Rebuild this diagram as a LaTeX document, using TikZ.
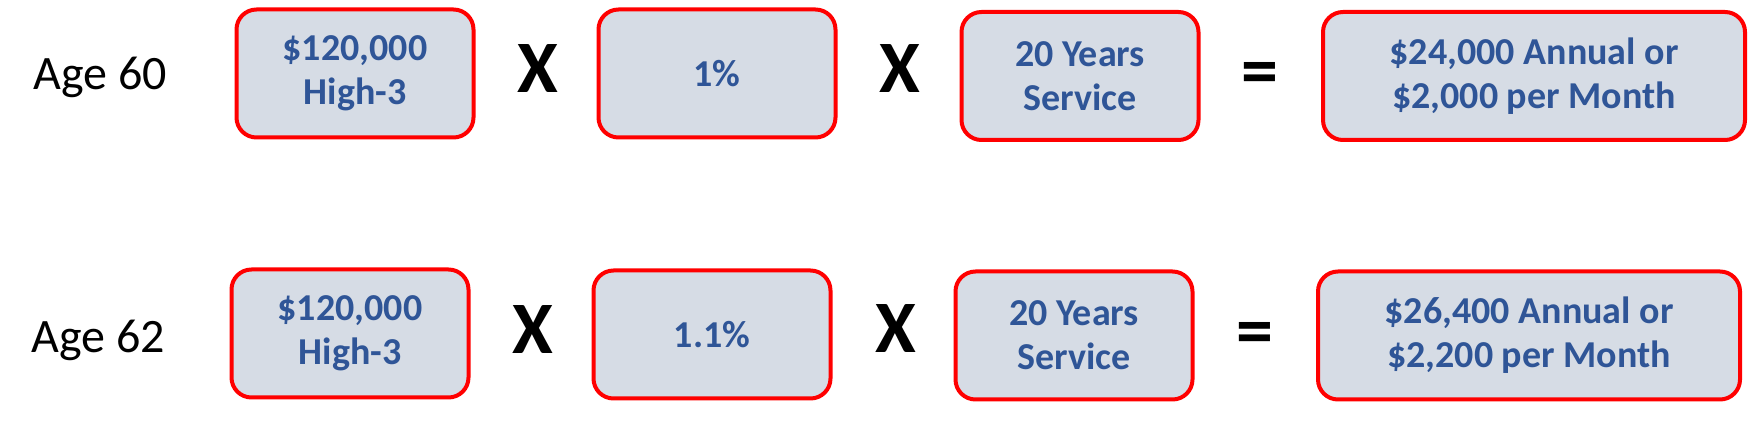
\documentclass[tikz,border=0pt]{standalone}
\usepackage{fontspec}
\setmainfont{Carlito}
\definecolor{boxfill}{HTML}{D6DCE5}
\definecolor{boxtext}{HTML}{2F5597}
\definecolor{boxline}{HTML}{FF0000}
\begin{document}
\begin{tikzpicture}[x=1pt,y=-1pt,
  valbox/.style={draw=boxline,line width=4pt,fill=boxfill,rounded corners=20pt,
    minimum width=237pt,minimum height=128pt,align=center,inner sep=0pt,
    text=boxtext,font=\fontsize{38}{44}\selectfont\bfseries},
  widebox/.style={valbox,minimum width=422pt},
  agelabel/.style={font=\fontsize{48}{52}\selectfont,text=black,anchor=base},
  opsign/.style={font=\fontsize{74}{80}\selectfont\bfseries,text=black,inner sep=0pt}]
\useasboundingbox (0,0) rectangle (1749,427);
% row 1
\node[agelabel] (age1) at (100,90) {Age 60};
\node[valbox] (a1) at (355,73.5) {\$120,000\\High-3};
\node[opsign] (x11) at (537.5,69) {X};
\node[valbox] (b1) at (717,73.5) {1\%};
\node[opsign] (x12) at (900,69) {X};
\node[valbox] (c1) at (1080,76) {20 Years\\Service};
\node[opsign] (eq1) at (1259.5,78.5) {=};
\node[widebox] (d1) at (1534,76) {\$24,000 Annual or\\\$2,000 per Month};
% row 2
\node[agelabel] (age2) at (98,353) {Age 62};
\node[valbox] (a2) at (350,333.5) {\$120,000\\High-3};
\node[opsign] (x21) at (532.5,330) {X};
\node[valbox] (b2) at (712,334.5) {1.1\%};
\node[opsign] (x22) at (896,329) {X};
\node[valbox] (c2) at (1074,335.5) {20 Years\\Service};
\node[opsign] (eq2) at (1255,338.5) {=};
\node[widebox] (d2) at (1529,335.5) {\$26,400 Annual or\\\$2,200 per Month};
\end{tikzpicture}
\end{document}
